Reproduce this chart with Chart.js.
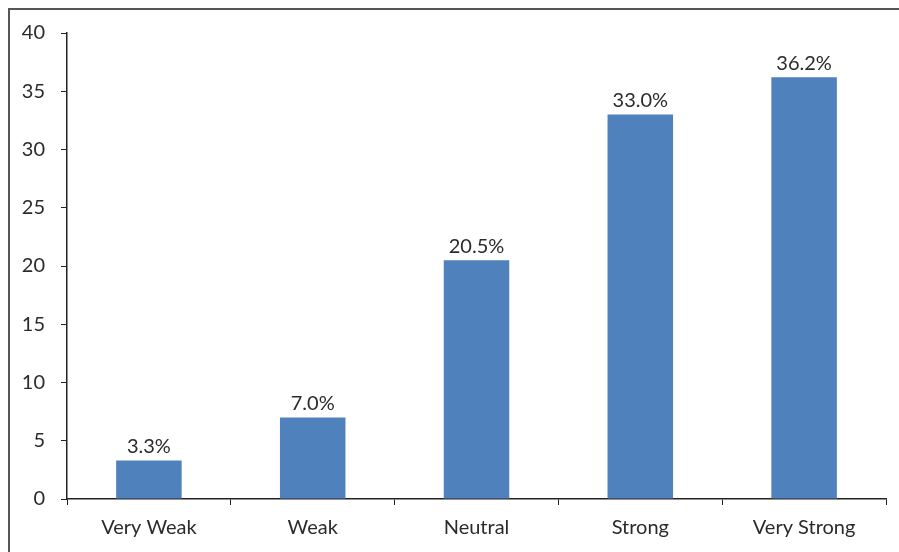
<!DOCTYPE html>
<html lang="en">
<head>
    <meta charset="UTF-8">
    <title>Strength Distribution</title>
    <script src="https://cdn.jsdelivr.net/npm/chart.js"></script>
    <style>
        body { margin: 0; background: #fff; }
        #wrap { width: 899px; height: 552px; position: relative; }
    </style>
</head>
<body>
<div id="wrap">
    <canvas id="barChart"></canvas>
</div>

<script>
  // Data
  const categories = ["Very Weak", "Weak", "Neutral", "Strong", "Very Strong"];
  const shares = [3.3, 7.0, 20.5, 33.0, 36.2];
  const yTicks = [0, 5, 10, 15, 20, 25, 30, 35, 40];

  const fontFamily = "Lato, 'Open Sans', sans-serif";
  const textColor = '#2b2b2b';

  // outer frame (top and left edges only, like the source image)
  const framePlugin = {
    id: 'frame',
    beforeDraw(chart) {
      const ctx = chart.ctx;
      ctx.save();
      ctx.fillStyle = '#fff';
      ctx.fillRect(0, 0, chart.width, chart.height);
      ctx.strokeStyle = '#555';
      ctx.lineWidth = 2;
      ctx.beginPath();
      ctx.moveTo(9, chart.height);
      ctx.lineTo(9, 9);
      ctx.lineTo(chart.width, 9);
      ctx.stroke();
      ctx.restore();
    }
  };

  // value labels above bars
  const labelPlugin = {
    id: 'valueLabels',
    afterDatasetsDraw(chart) {
      const ctx = chart.ctx;
      const meta = chart.getDatasetMeta(0);
      ctx.save();
      ctx.font = '20px ' + fontFamily;
      ctx.fillStyle = textColor;
      ctx.textAlign = 'center';
      ctx.textBaseline = 'bottom';
      meta.data.forEach((bar, i) => {
        ctx.fillText(shares[i].toFixed(1) + '%', bar.x, bar.y - 4);
      });
      ctx.restore();
    }
  };

  const ctx = document.getElementById('barChart').getContext('2d');
  new Chart(ctx, {
    type: 'bar',
    data: {
      labels: categories,
      datasets: [{
        data: shares,
        backgroundColor: '#4F81BD',
        borderWidth: 0,
        barPercentage: 0.4,
        categoryPercentage: 1.0
      }]
    },
    options: {
      responsive: true,
      maintainAspectRatio: false,
      animation: false,
      layout: { padding: { left: 0, right: 13, top: 33, bottom: 0 } },
      plugins: {
        legend: { display: false },
        tooltip: { enabled: false }
      },
      scales: {
        x: {
          offset: true,
          grid: {
            offset: true,
            drawOnChartArea: false,
            color: '#222',
            tickLength: 6,
            tickWidth: 1
          },
          border: { color: '#222', width: 1.5 },
          ticks: {
            color: textColor,
            font: { family: fontFamily, size: 20 },
            padding: 11,
            maxRotation: 0
          },
          afterFit(scale) { scale.height = 53; }
        },
        y: {
          min: 0,
          max: 40,
          afterBuildTicks(scale) { scale.ticks = yTicks.map(v => ({ value: v })); },
          grid: {
            drawOnChartArea: false,
            color: '#222',
            tickLength: 6,
            tickWidth: 1
          },
          border: { color: '#222', width: 1.5 },
          ticks: {
            color: textColor,
            font: { family: fontFamily, size: 20 },
            padding: 16
          },
          afterFit(scale) { scale.width = 67; }
        }
      }
    },
    plugins: [framePlugin, labelPlugin]
  });
</script>
</body>
</html>
